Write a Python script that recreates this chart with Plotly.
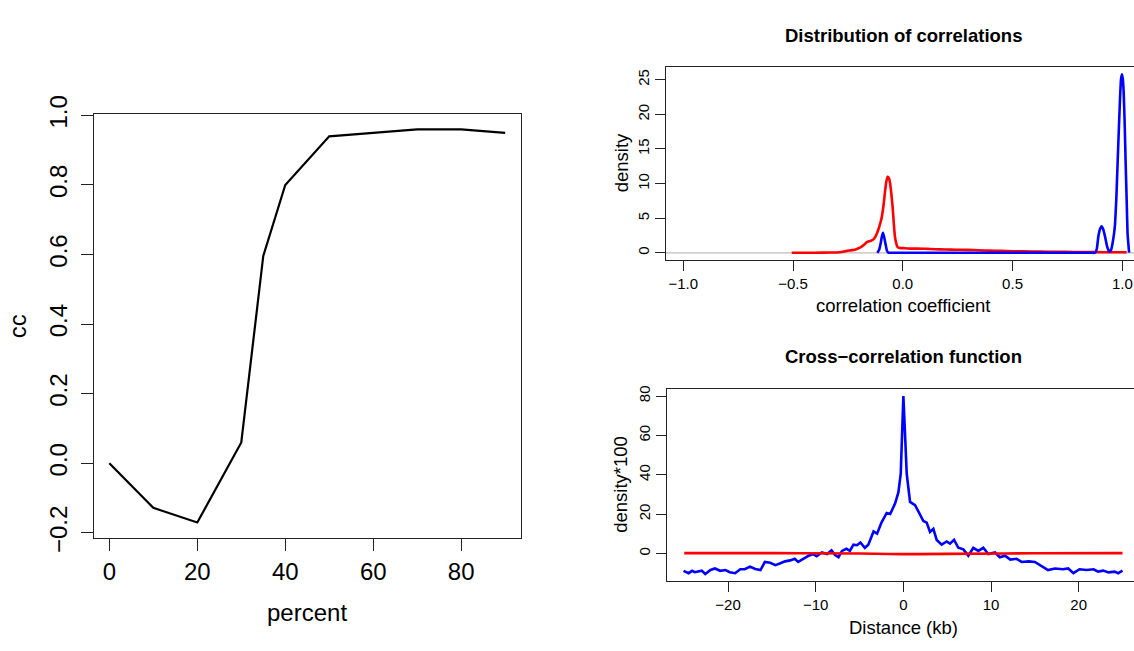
import plotly.graph_objects as go

W, H = 1134, 651

# ---- left panel: cc vs percent ----
percent = [0, 10, 20, 30, 35, 40, 50, 60, 70, 80, 90]
cc = [0.0, -0.128, -0.170, 0.060, 0.596, 0.800, 0.940, 0.950, 0.960, 0.960, 0.950]

# ---- top right: distribution of correlations ----
red_r = [-0.506, -0.40, -0.33, -0.286, -0.26, -0.241, -0.215, -0.195, -0.175, -0.164,
         -0.145, -0.134, -0.122, -0.112, -0.104, -0.096, -0.088, -0.081, -0.075, -0.069,
         -0.063, -0.058, -0.052, -0.046, -0.041, -0.036, -0.030, -0.025, -0.015, 0.002,
         0.03, 0.063, 0.10, 0.124, 0.17, 0.22, 0.27, 0.321, 0.37, 0.42, 0.473, 0.55,
         0.625, 0.70, 0.777, 0.85, 0.92, 1.02]
red_d = [0.02, 0.02, 0.05, 0.10, 0.25, 0.35, 0.50, 0.75, 1.20, 1.55,
         1.75, 1.95, 2.5, 3.3, 4.1, 5.1, 6.8, 8.8, 10.3, 11.0,
         10.8, 10.1, 8.5, 6.5, 4.3, 2.4, 1.4, 0.9, 0.72, 0.68,
         0.62, 0.62, 0.60, 0.55, 0.50, 0.47, 0.45, 0.42, 0.35, 0.30, 0.27, 0.22,
         0.18, 0.15, 0.13, 0.12, 0.10, 0.10]
blue_r = [-0.116, -0.108, -0.100, -0.095, -0.090, -0.085, -0.078, -0.072, -0.066, -0.06,
          0.0, 0.5, 0.86, 0.876, 0.884, 0.891, 0.899, 0.906, 0.913, 0.921, 0.931, 0.941,
          0.949, 0.956, 0.962, 0.967, 0.973, 0.979, 0.985, 0.990, 0.994, 0.998,
          1.002, 1.006, 1.011, 1.015, 1.020, 1.024, 1.031]
blue_d = [0.0, 0.4, 1.5, 2.4, 2.9, 2.3, 1.2, 0.3, 0.02, 0.01,
          0.01, 0.01, 0.01, 0.02, 0.6, 2.4, 3.5, 3.84, 3.4, 2.4, 0.9, 0.15,
          0.4, 1.45, 2.7, 4.2, 8.0, 13.3, 18.5, 22.5, 25.0, 25.8,
          25.2, 23.4, 18.5, 13.3, 7.5, 2.8, 0.05]

# ---- bottom right: cross-correlation function ----
ccf_x = [-25.08, -24.5, -24.1, -23.8, -23.0, -22.6, -22.0, -21.5, -20.9, -20.3,
         -19.8, -19.2, -18.6, -18.1, -17.5, -16.9, -16.3, -15.8, -15.2, -14.6,
         -14.1, -13.5, -12.9, -12.4, -12.0, -11.4, -10.8, -10.3, -9.9, -9.3,
         -8.7, -8.2, -7.8, -7.4, -7.0, -6.5, -6.1, -5.7, -5.3, -4.9,
         -4.4, -4.0, -3.4, -3.0, -2.5, -1.9, -1.5, -0.95, -0.57, -0.30,
         -0.11, 0.0, 0.15, 0.38, 0.76, 1.33, 1.71, 2.28, 2.66, 3.04,
         3.42, 3.80, 4.37, 4.94, 5.32, 5.78, 6.27, 6.84, 7.41, 7.98,
         8.55, 9.12, 9.69, 10.45, 11.0, 11.6, 12.2, 12.9, 13.5, 14.3,
         15.0, 15.6, 16.5, 17.3, 18.2, 18.8, 19.4, 20.1, 20.9, 21.7,
         22.2, 22.8, 23.4, 24.1, 24.5, 25.0]
ccf_blue = [-8.8, -10.0, -8.8, -9.5, -8.7, -10.4, -8.4, -7.6, -8.8, -8.4,
            -9.5, -10.0, -8.0, -8.0, -6.7, -7.9, -8.4, -4.3, -4.7, -5.9,
            -5.1, -4.0, -3.5, -2.7, -4.3, -2.7, -1.1, -0.3, -1.4, 0.5,
            -0.3, 1.6, -0.8, -1.9, 1.3, 2.4, 1.3, 4.5, 4.2, 5.6,
            2.9, 4.5, 11.2, 10.1, 15.7, 20.6, 20.1, 25.4, 31.0, 40.6,
            64.7, 80.0, 64.7, 40.6, 26.2, 24.6, 21.4, 16.5, 15.7, 10.9,
            12.5, 6.9, 4.5, 6.1, 5.0, 6.9, 2.9, 2.1, -1.1, 2.9,
            1.3, 2.9, -0.3, 0.5, -1.9, -1.1, -3.1, -2.7, -4.3, -4.0,
            -4.3, -5.9, -8.4, -7.6, -8.0, -7.6, -10.0, -8.0, -8.4, -8.0,
            -9.2, -8.7, -9.6, -9.2, -10.0, -8.7]
ccf_rx = [-25, -15, -5, 0, 5, 15, 25]
ccf_red = [0.2, 0.2, 0.0, -0.3, -0.2, 0.1, 0.2]

# tick labels
left_xticks = [0, 20, 40, 60, 80]
left_yticks = [-0.2, 0.0, 0.2, 0.4, 0.6, 0.8, 1.0]
tr_xticks = [-1.0, -0.5, 0.0, 0.5, 1.0]
tr_yticks = [0, 5, 10, 15, 20, 25]
br_xticks = [-20, -10, 0, 10, 20]
br_yticks = [0, 20, 40, 60, 80]

FONT = "Liberation Sans, Arial, Helvetica, sans-serif"


def px(x):
    return x / W


def py(y):
    return 1 - y / H


fig = go.Figure()

fig.add_trace(go.Scatter(x=percent, y=cc, mode="lines",
                         line=dict(color="black", width=2.2),
                         xaxis="x", yaxis="y", showlegend=False))

fig.add_trace(go.Scatter(x=red_r, y=red_d, mode="lines",
                         line=dict(color="#FF0000", width=2.6, shape="spline", smoothing=0.5),
                         xaxis="x2", yaxis="y2", showlegend=False))
fig.add_trace(go.Scatter(x=blue_r, y=blue_d, mode="lines",
                         line=dict(color="#0000FF", width=2.6, shape="spline", smoothing=0.4),
                         xaxis="x2", yaxis="y2", showlegend=False))

fig.add_trace(go.Scatter(x=ccf_x, y=ccf_blue, mode="lines",
                         line=dict(color="#0000FF", width=2.6),
                         xaxis="x3", yaxis="y3", showlegend=False))
fig.add_trace(go.Scatter(x=ccf_rx, y=ccf_red, mode="lines",
                         line=dict(color="#FF0000", width=2.6, shape="spline"),
                         xaxis="x3", yaxis="y3", showlegend=False))

base = dict(showgrid=False, zeroline=False, ticks="outside", linecolor="#222",
            tickcolor="#222", linewidth=1)


def big():
    return dict(family=FONT, size=24, color="black")


def small():
    return dict(family=FONT, size=15, color="black")


fig.update_layout(
    width=W, height=H, margin=dict(l=0, r=0, t=0, b=0),
    paper_bgcolor="white", plot_bgcolor="white",
    font=dict(family=FONT, color="black"),
    xaxis=dict(domain=[px(93.5), px(521)], range=[-3.6, 93.6], anchor="y",
               tickvals=left_xticks, ticklen=12, showline=True, mirror=True,
               tickfont=big(), **base),
    yaxis=dict(domain=[py(548), py(100.7)], range=[-0.2152, 1.0052], anchor="x",
               tickvals=left_yticks, tickformat=".1f", ticklen=12, tickangle=-90,
               ticklabelstandoff=4,
               showline=True, mirror=True, tickfont=big(), **base),
    xaxis2=dict(domain=[px(665.7), 1.0], range=[-1.08, 1.0533], anchor="y2",
                tickvals=tr_xticks, tickformat=".1f", ticklen=10, showline=True, mirror=True,
                tickfont=small(), **base),
    yaxis2=dict(domain=[py(255), py(51.7)], range=[-1.04, 26.83], anchor="x2",
                tickvals=tr_yticks, ticklen=10, tickangle=-90, showline=True,
                tickfont=small(), **base),
    xaxis3=dict(domain=[px(666.7), 1.0], range=[-27.0, 26.31], anchor="y3",
                tickvals=br_xticks, ticklen=10, showline=True, mirror=True,
                tickfont=small(), **base),
    yaxis3=dict(domain=[py(592.8), py(391)], range=[-13.85, 83.5], anchor="x3",
                tickvals=br_yticks, ticklen=10, tickangle=-90, showline=True,
                tickfont=small(), **base),
)

# grey reference line at density 0
fig.add_shape(type="line", xref="x2 domain", yref="y2", x0=0, x1=1, y0=0, y1=0,
              line=dict(color="#BEBEBE", width=1.2), layer="below")


def ann(text, x, y, size, angle=0):
    fig.add_annotation(text=text, x=px(x), y=py(y), xref="paper", yref="paper",
                       xanchor="center", yanchor="middle", showarrow=False,
                       textangle=angle, font=dict(family=FONT, size=size, color="black"))


ann("cc", 17, 324.6, 24, -90)
ann("percent", 306.7, 626, 24)
ann("<b>Distribution of correlations</b>", 903, 18.3, 18.5)
ann("density", 621, 153, 18.5, -90)
ann("correlation coefficient", 903, 303.3, 18.5)
ann("<b>Cross\u2212correlation function</b>", 903.5, 356.7, 18.5)
ann("density*100", 621, 491.7, 18.5, -90)
ann("Distance (kb)", 903.5, 641.7, 18.5)

fig.write_html("out.html")
